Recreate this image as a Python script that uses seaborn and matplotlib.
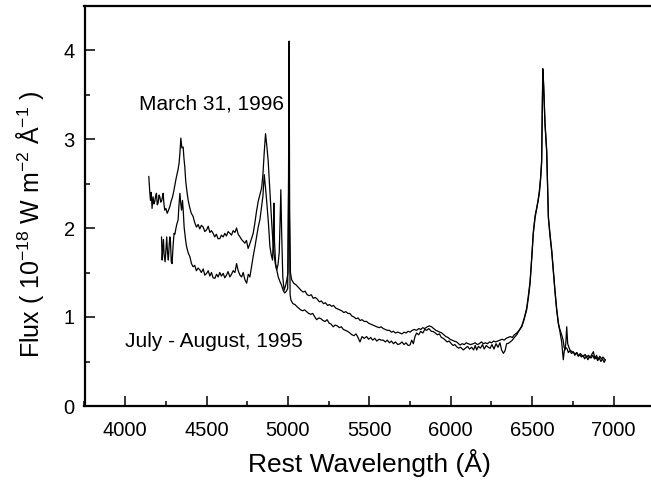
import matplotlib
matplotlib.use("Agg")
import matplotlib.pyplot as plt
from matplotlib.ticker import MultipleLocator
import seaborn as sns
import pandas as pd

# ---- data ----
wl_mar = [4145, 4150, 4155, 4160, 4165, 4171, 4177, 4182, 4187, 4192, 4197, 4202, 4208, 4213, 4218,
          4223, 4228, 4233, 4238, 4243, 4250, 4258, 4266, 4274, 4282, 4291, 4298, 4305, 4312, 4319,
          4325, 4331, 4336, 4342, 4348, 4356, 4361, 4366, 4372, 4380, 4387, 4395, 4405, 4417, 4427,
          4438, 4448, 4458, 4468, 4479, 4489, 4500, 4510, 4520, 4530, 4540, 4550, 4560, 4570, 4581,
          4591, 4602, 4612, 4622, 4632, 4643, 4653, 4663, 4674, 4684, 4694, 4705, 4715, 4725, 4735,
          4745, 4755, 4765, 4776, 4786, 4796, 4806, 4817, 4828, 4838, 4846, 4854, 4862, 4870, 4878,
          4889, 4899, 4906, 4913, 4922, 4930, 4938, 4946, 4951, 4956, 4961, 4968, 4976, 4985, 4993,
          5000, 5004, 5007, 5010, 5015, 5022, 5035, 5050, 5065, 5080, 5093, 5105, 5118, 5130, 5143,
          5155, 5168, 5180, 5193, 5205, 5218, 5230, 5243, 5255, 5268, 5280, 5293, 5305, 5318, 5330,
          5343, 5355, 5368, 5380, 5393, 5405, 5418, 5430, 5443, 5455, 5468, 5483, 5495, 5508, 5520,
          5533, 5545, 5560, 5572, 5585, 5598, 5610, 5623, 5635, 5648, 5660, 5675, 5688, 5700, 5713,
          5725, 5738, 5750, 5763, 5775, 5790, 5803, 5815, 5828, 5840, 5855, 5868, 5882, 5895, 5908,
          5920, 5933, 5945, 5958, 5970, 5983, 5995, 6008, 6020, 6036, 6048, 6057, 6070, 6083, 6095,
          6108, 6120, 6138, 6150, 6163, 6175, 6188, 6200, 6213, 6225, 6238, 6250, 6263, 6275, 6288,
          6302, 6315, 6328, 6340, 6353, 6365, 6378, 6390, 6405, 6420, 6436, 6450, 6466, 6477, 6487,
          6497, 6507, 6518, 6528, 6536, 6544, 6552, 6558, 6562, 6565, 6570, 6578, 6589, 6595, 6599,
          6610, 6620, 6630, 6640, 6650, 6661, 6670, 6681, 6690, 6696, 6702, 6707, 6712, 6718, 6725,
          6732, 6745, 6755, 6765, 6775, 6785, 6795, 6805, 6814, 6825, 6835, 6845, 6855, 6866, 6876,
          6885, 6895, 6905, 6915, 6925, 6935, 6948]
flux_mar = [2.58, 2.43, 2.31, 2.40, 2.22, 2.35, 2.27, 2.30, 2.36, 2.39, 2.26, 2.28, 2.37, 2.35, 2.29,
            2.30, 2.34, 2.39, 2.27, 2.20, 2.22, 2.165, 2.20, 2.24, 2.30, 2.35, 2.41, 2.48, 2.55, 2.61,
            2.66, 2.73, 2.84, 3.01, 2.90, 2.91, 2.78, 2.69, 2.52, 2.40, 2.31, 2.24, 2.17, 2.13, 2.06,
            2.01, 2.04, 1.99, 2.03, 2.01, 1.96, 1.98, 2.02, 1.95, 1.97, 1.94, 1.90, 1.93, 1.88, 1.88,
            1.92, 1.90, 1.94, 1.91, 1.96, 1.94, 1.92, 1.97, 1.95, 2.00, 1.93, 1.90, 1.87, 1.85, 1.83,
            1.86, 1.77, 1.82, 1.88, 1.94, 2.05, 2.18, 2.30, 2.38, 2.45, 2.60, 2.85, 3.06, 2.92, 2.76,
            2.40, 2.09, 1.88, 1.72, 1.60, 1.53, 1.58, 1.72, 2.05, 2.43, 1.95, 1.45, 1.30, 1.35, 1.42,
            1.50, 2.60, 4.10, 2.20, 1.50, 1.42, 1.38, 1.36, 1.33, 1.30, 1.28, 1.29, 1.25, 1.24, 1.25,
            1.21, 1.22, 1.20, 1.17, 1.18, 1.15, 1.16, 1.13, 1.14, 1.12, 1.13, 1.10, 1.09, 1.08, 1.07,
            1.05, 1.06, 1.04, 1.04, 1.01, 1.00, 0.98, 0.99, 0.96, 0.97, 0.95, 0.95, 0.93, 0.92, 0.91,
            0.90, 0.89, 0.88, 0.89, 0.87, 0.86, 0.85, 0.85, 0.83, 0.84, 0.82, 0.83, 0.82, 0.81, 0.83,
            0.82, 0.84, 0.83, 0.85, 0.86, 0.85, 0.87, 0.86, 0.88, 0.87, 0.89, 0.90, 0.89, 0.87, 0.85,
            0.84, 0.83, 0.82, 0.80, 0.78, 0.77, 0.75, 0.74, 0.73, 0.72, 0.70, 0.685, 0.70, 0.69, 0.71,
            0.70, 0.69, 0.70, 0.71, 0.69, 0.70, 0.72, 0.70, 0.71, 0.70, 0.72, 0.71, 0.73, 0.72, 0.73,
            0.74, 0.75, 0.74, 0.76, 0.77, 0.78, 0.77, 0.80, 0.82, 0.85, 0.89, 0.97, 1.08, 1.22, 1.38,
            1.65, 1.94, 2.12, 2.22, 2.30, 2.39, 2.55, 2.73, 3.30, 3.79, 3.60, 3.20, 2.88, 2.45, 2.13,
            1.92, 1.75, 1.52, 1.30, 1.10, 0.93, 0.86, 0.80, 0.74, 0.66, 0.63, 0.72, 0.89, 0.70, 0.66,
            0.63, 0.61, 0.60, 0.58, 0.60, 0.56, 0.59, 0.57, 0.554, 0.58, 0.55, 0.57, 0.54, 0.58, 0.61,
            0.53, 0.57, 0.52, 0.56, 0.53, 0.55, 0.517]

wl_jul = [4223, 4227, 4231, 4235, 4239, 4245, 4250, 4255, 4260, 4265, 4270, 4274, 4278, 4283, 4288,
          4294, 4300, 4305, 4312, 4318, 4325, 4330, 4336, 4341, 4346, 4352, 4357, 4362, 4370, 4377,
          4387, 4397, 4407, 4417, 4427, 4437, 4448, 4458, 4468, 4479, 4489, 4500, 4510, 4520, 4530,
          4540, 4551, 4561, 4571, 4581, 4591, 4602, 4612, 4622, 4632, 4643, 4653, 4663, 4674, 4684,
          4694, 4705, 4715, 4725, 4735, 4746, 4756, 4766, 4776, 4786, 4797, 4807, 4817, 4828, 4838,
          4846, 4854, 4862, 4870, 4880, 4889, 4897, 4905, 4910, 4913, 4917, 4924, 4932, 4940, 4950,
          4960, 4970, 4980, 4990, 4998, 5003, 5006, 5009, 5013, 5018, 5030, 5043, 5053, 5065, 5078,
          5090, 5102, 5114, 5127, 5140, 5152, 5165, 5176, 5190, 5203, 5215, 5228, 5240, 5253, 5265,
          5278, 5290, 5303, 5315, 5328, 5340, 5353, 5365, 5380, 5393, 5405, 5418, 5430, 5442, 5455,
          5468, 5483, 5495, 5508, 5520, 5533, 5545, 5560, 5572, 5585, 5598, 5610, 5623, 5635, 5648,
          5660, 5675, 5688, 5700, 5713, 5725, 5738, 5749, 5760, 5770, 5780, 5790, 5803, 5815, 5828,
          5840, 5852, 5865, 5880, 5893, 5905, 5918, 5930, 5942, 5954, 5966, 5978, 5990, 6003, 6015,
          6025, 6036, 6048, 6060, 6077, 6090, 6103, 6115, 6128, 6140, 6150, 6159, 6170, 6182, 6195,
          6205, 6218, 6230, 6241, 6253, 6265, 6278, 6290, 6302, 6312, 6323, 6333, 6343, 6353, 6365,
          6378, 6390, 6405, 6420, 6436, 6450, 6466, 6477, 6487, 6497, 6507, 6518, 6528, 6536, 6544,
          6552, 6558, 6562, 6566, 6571, 6579, 6589, 6595, 6600, 6610, 6620, 6630, 6640, 6650, 6661,
          6670, 6681, 6691, 6697, 6705, 6715, 6722, 6730, 6742, 6752, 6762, 6772, 6782, 6792, 6802,
          6812, 6822, 6832, 6842, 6852, 6862, 6872, 6882, 6892, 6902, 6912, 6922, 6932, 6942, 6950]
flux_jul = [1.90, 1.64, 1.78, 1.87, 1.70, 1.62, 1.75, 1.90, 1.72, 1.64, 1.80, 1.90, 1.85, 1.62, 1.60,
            1.80, 1.94, 1.93, 2.00, 2.05, 2.09, 2.25, 2.39, 2.28, 2.20, 2.31, 2.18, 2.01, 1.88, 1.79,
            1.72, 1.68, 1.60, 1.565, 1.58, 1.52, 1.55, 1.53, 1.50, 1.54, 1.47, 1.49, 1.52, 1.46, 1.50,
            1.44, 1.435, 1.48, 1.45, 1.50, 1.46, 1.49, 1.44, 1.47, 1.51, 1.45, 1.48, 1.52, 1.50, 1.60,
            1.52, 1.47, 1.45, 1.50, 1.42, 1.38, 1.48, 1.45, 1.565, 1.68, 1.79, 1.90, 2.01, 2.10, 2.24,
            2.36, 2.60, 2.45, 2.28, 2.05, 1.79, 1.70, 1.64, 1.90, 2.28, 1.85, 1.60, 1.52, 1.45, 1.40,
            1.36, 1.30, 1.27, 1.29, 1.32, 2.40, 3.90, 2.10, 1.25, 1.19, 1.15, 1.14, 1.12, 1.10, 1.08,
            1.07, 1.08, 1.06, 1.04, 1.03, 1.04, 1.00, 0.97, 0.99, 0.98, 0.96, 0.95, 0.97, 0.93, 0.92,
            0.89, 0.91, 0.90, 0.88, 0.89, 0.86, 0.85, 0.84, 0.82, 0.80, 0.79, 0.81, 0.77, 0.72, 0.78,
            0.76, 0.78, 0.75, 0.77, 0.74, 0.76, 0.73, 0.75, 0.74, 0.74, 0.72, 0.74, 0.71, 0.73, 0.70,
            0.72, 0.69, 0.70, 0.72, 0.69, 0.71, 0.68, 0.685, 0.74, 0.70, 0.78, 0.82, 0.80, 0.84, 0.82,
            0.86, 0.85, 0.87, 0.84, 0.835, 0.82, 0.80, 0.81, 0.77, 0.76, 0.74, 0.72, 0.73, 0.70, 0.68,
            0.69, 0.666, 0.65, 0.66, 0.63, 0.65, 0.67, 0.64, 0.66, 0.63, 0.68, 0.63, 0.67, 0.65, 0.69,
            0.64, 0.68, 0.66, 0.648, 0.69, 0.64, 0.70, 0.66, 0.71, 0.63, 0.592, 0.62, 0.70, 0.704, 0.72,
            0.74, 0.77, 0.80, 0.85, 0.90, 0.98, 1.10, 1.25, 1.40, 1.67, 1.96, 2.14, 2.23, 2.31, 2.42,
            2.58, 2.76, 3.35, 3.78, 3.58, 3.15, 2.85, 2.42, 2.10, 1.90, 1.73, 1.50, 1.28, 1.08, 0.92,
            0.84, 0.72, 0.52, 0.62, 0.66, 0.64, 0.60, 0.62, 0.59, 0.61, 0.57, 0.60, 0.56, 0.58, 0.55,
            0.57, 0.53, 0.56, 0.52, 0.56, 0.54, 0.57, 0.53, 0.55, 0.51, 0.54, 0.50, 0.53, 0.49, 0.52]

label_mar = "March 31, 1996"
label_jul = "July - August, 1995"
x_ticks = [4000, 4500, 5000, 5500, 6000, 6500, 7000]
y_ticks = [0, 1, 2, 3, 4]

# ---- style ----
sns.set_style("ticks")
plt.rcParams["font.family"] = ["Liberation Sans", "DejaVu Sans"]
plt.rcParams["mathtext.fontset"] = "custom"
plt.rcParams["mathtext.rm"] = "Liberation Sans"
plt.rcParams["mathtext.it"] = "Liberation Sans:italic"
plt.rcParams["mathtext.bf"] = "Liberation Sans:bold"
plt.rcParams["mathtext.default"] = "regular"
for key in ["text.color", "axes.labelcolor", "xtick.color", "ytick.color", "axes.edgecolor"]:
    plt.rcParams[key] = "black"

W, H = 651, 487
fig = plt.figure(figsize=(W / 100, H / 100), dpi=100)
left_px, right_px, top_px, bot_px = 84.5, 654.3, 5.5, 406.0
ax = fig.add_axes([left_px / W, (H - bot_px) / H, (right_px - left_px) / W, (bot_px - top_px) / H])

df_mar = pd.DataFrame({"wl": wl_mar, "flux": flux_mar})
df_jul = pd.DataFrame({"wl": wl_jul, "flux": flux_jul})
sns.lineplot(data=df_jul, x="wl", y="flux", ax=ax, color="black", lw=0.9, sort=False, estimator=None)
sns.lineplot(data=df_mar, x="wl", y="flux", ax=ax, color="black", lw=0.9, sort=False, estimator=None)

ax.set_xlim(3750, 7250)
ax.set_ylim(0, 4.5)
ax.set_xticks(x_ticks)
ax.set_yticks(y_ticks)
ax.xaxis.set_minor_locator(MultipleLocator(250))
ax.yaxis.set_minor_locator(MultipleLocator(0.5))
ax.tick_params(which="major", direction="in", length=7.5, width=1.1, labelsize=14.5,
               color="black", labelcolor="black")
ax.tick_params(which="minor", direction="in", length=3.8, width=1.1, color="black")
ax.tick_params(axis="x", which="major", pad=11)
ax.tick_params(axis="y", which="major", pad=7)
ax.tick_params(top=False, right=False, which="both")

for side in ["left", "bottom", "top"]:
    ax.spines[side].set_linewidth(1.6)
    ax.spines[side].set_color("black")
ax.spines["right"].set_visible(False)

ax.set_xlabel("Rest Wavelength (Å)", fontsize=19, color="black")
ax.set_ylabel(r"Flux ( 10$^{-18}$ W m$^{-2}$ Å$^{-1}$ )", fontsize=18, color="black")
ax.xaxis.set_label_coords(0.5, -0.107)
ax.yaxis.set_label_coords(-0.068, 0.453)

ax.text(4085, 3.334, label_mar, fontsize=15, ha="left", va="baseline", color="black")
ax.text(3998, 0.666, label_jul, fontsize=15, ha="left", va="baseline", color="black")

fig.savefig("out.png", dpi=100)
